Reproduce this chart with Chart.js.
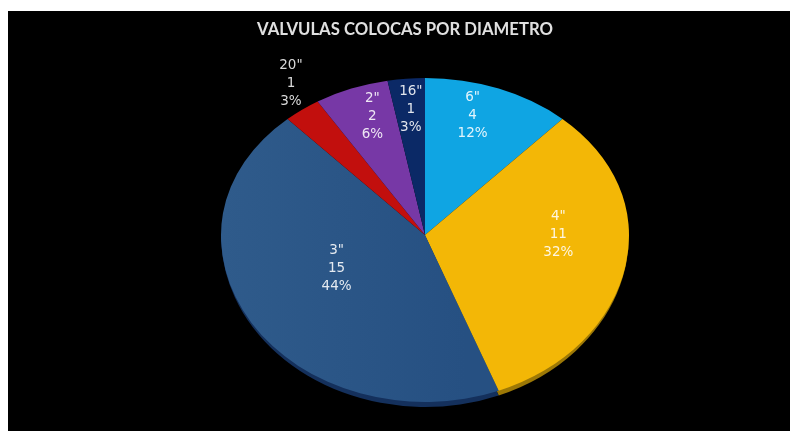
<!DOCTYPE html>
<html lang="en">
<head>
    <meta charset="UTF-8">
    <title>Valvulas colocas por diametro</title>
    <script src="https://cdn.jsdelivr.net/npm/chart.js@4.4.1/dist/chart.umd.min.js"></script>
    <style>
        html, body { margin: 0; background: #fff; overflow: hidden; }
        #chart { position: absolute; left: 8px; top: 11px; background: #000; }
    </style>
</head>
<body>
    <canvas id="chart" width="782" height="420"></canvas>
    <script>
const diameters = ['6"', '4"', '3"', '20"', '2"', '16"'];
const counts = [4, 11, 15, 1, 2, 1];
const sliceColors = ['#0fa5e3', '#f3b706', '#275084', '#c20f0d', '#7738a6', '#0b2966'];
const rimColors = ['#0a6e98', '#9c7806', '#14305c', '#7a0a08', '#4c2470', '#061a42'];
// nudges from the default label spot, the original labels were placed by hand
const labelShiftX = [-4, -7, 33, -48, -1, -1];
const labelShiftY = [-17, -22, -28, -64, -16, -16];

// the pie is tilted, so the half behind the centre is squashed more than the front one
const pieX = 417, pieY = 224;
const backSquash = 157 / 204, frontSquash = 167 / 204, rimSquash = 172 / 204;
const leftPad = 12;

function pieTransform(ctx, el, squash) {
    ctx.translate(pieX, pieY);
    ctx.scale(1, squash);
    ctx.translate(-el.x, -el.y);
}

function clipBand(ctx, top, bottom) {
    ctx.beginPath();
    ctx.rect(0, top, 782, bottom - top);
    ctx.clip();
}

// the big slice is a bit lighter on its outer side
function sliceColor(c) {
    if (c.dataIndex !== 2) return sliceColors[c.dataIndex];
    const cx = (leftPad + c.chart.width) / 2;
    const g = c.chart.ctx.createLinearGradient(cx - 204, 0, cx + 40, 0);
    g.addColorStop(0, '#2f5b8b');
    g.addColorStop(1, '#265082');
    return g;
}

const tiltedPie = {
    id: 'tiltedPie',
    beforeDatasetDraw(chart, args) {
        const ctx = chart.ctx;
        const meta = args.meta;
        const first = meta.data[0];

        // rim under the front half
        ctx.save();
        clipBand(ctx, pieY, chart.height);
        pieTransform(ctx, first, rimSquash);
        meta.data.forEach((el, i) => {
            ctx.beginPath();
            ctx.moveTo(el.x, el.y);
            ctx.arc(el.x, el.y, el.outerRadius, el.startAngle, el.endAngle);
            ctx.closePath();
            ctx.fillStyle = rimColors[i];
            ctx.fill();
        });
        ctx.restore();

        ctx.save();
        clipBand(ctx, 0, pieY);
        pieTransform(ctx, first, backSquash);
        meta.controller.draw();
        ctx.restore();

        ctx.save();
        clipBand(ctx, pieY, chart.height);
        pieTransform(ctx, first, frontSquash);
        meta.controller.draw();
        ctx.restore();

        return false;
    },
    afterDatasetsDraw(chart) {
        const ctx = chart.ctx;
        const total = counts.reduce((a, b) => a + b, 0);
        ctx.save();
        ctx.font = '13.5px "DejaVu Sans"';
        ctx.textAlign = 'center';
        ctx.textBaseline = 'middle';
        chart.getDatasetMeta(0).data.forEach((el, i) => {
            const mid = (el.startAngle + el.endAngle) / 2;
            const r = el.outerRadius * 0.7;
            const dy = Math.sin(mid) * r;
            const x = pieX + Math.cos(mid) * r + labelShiftX[i];
            const y = pieY + dy * (dy < 0 ? backSquash : frontSquash) + labelShiftY[i];
            const lines = [diameters[i], counts[i], Math.round(counts[i] / total * 100) + '%'];
            ctx.fillStyle = i === 3 ? '#d9d9d9' : 'rgba(255,255,255,0.88)';
            lines.forEach((txt, n) => ctx.fillText(txt, x, y + (n - 1) * 18));
        });
        ctx.restore();
    }
};

new Chart(document.getElementById('chart').getContext('2d'), {
    type: 'pie',
    data: {
        labels: diameters,
        datasets: [{
            data: counts,
            backgroundColor: sliceColor,
            borderWidth: 0,
            clip: false
        }]
    },
    options: {
        responsive: false,
        animation: false,
        radius: 204,
        layout: { padding: { left: leftPad } },
        plugins: {
            legend: { display: false },
            tooltip: { enabled: false },
            title: {
                display: true,
                text: 'VALVULAS COLOCAS POR DIAMETRO',
                color: '#e0e0e0',
                font: { family: 'Lato', size: 16.7, weight: 'bold' },
                padding: { top: 9, bottom: 10 }
            }
        }
    },
    plugins: [tiltedPie]
});
    </script>
</body>
</html>
